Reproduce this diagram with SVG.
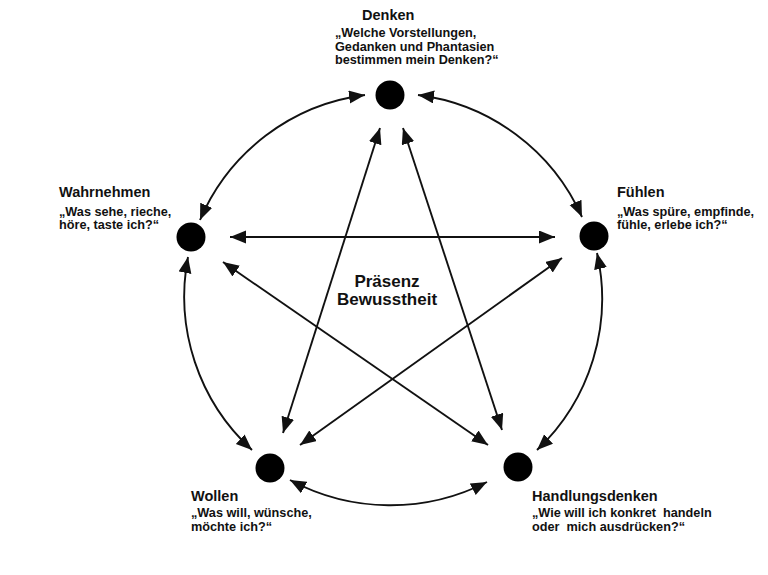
<svg xmlns="http://www.w3.org/2000/svg" width="768" height="575" viewBox="0 0 768 575">
<style>
.node circle{fill:#000}
.t{font-family:"Liberation Sans",Arial,sans-serif;font-weight:bold;font-size:14.5px;fill:#111}
.s{font-family:"Liberation Sans",Arial,sans-serif;font-weight:bold;font-size:12.7px;fill:#111;white-space:pre}
.c{font-family:"Liberation Sans",Arial,sans-serif;font-weight:bold;font-size:17px;fill:#111;text-anchor:middle}
.e{fill:none;stroke:#111;stroke-width:1.9;marker-start:url(#ah);marker-end:url(#ah)}
</style>
<defs>
<marker id="ah" markerUnits="userSpaceOnUse" markerWidth="17" markerHeight="14" refX="16" refY="6.5" orient="auto-start-reverse" viewBox="0 0 17 14">
<path d="M0,0 L16,6.5 L0,13 z" fill="#111"/>
</marker>
</defs>
<rect width="768" height="575" fill="#fff"/>
<g id="connectors">
<path class="e" d="M365,95 A208,208 0 0 0 200,220"/>
<path class="e" d="M418,95 A208,208 0 0 1 582,217"/>
<path class="e" d="M188,257 A208,208 0 0 0 252,450"/>
<path class="e" d="M597,253 A208,208 0 0 1 537,450"/>
<path class="e" d="M290,480 A212,212 0 0 0 487,482"/>
<path class="e" d="M230,237 L555,237"/>
<path class="e" d="M223,262 L488,445"/>
<path class="e" d="M562,258 L300,445"/>
<path class="e" d="M380,128 L283,433"/>
<path class="e" d="M403,128 L502,430"/>
</g>
<g id="denken" class="node">
<circle cx="390" cy="95" r="14.5"/>
<text class="t" x="362" y="20">Denken</text>
<text class="s" x="335" y="37">„Welche Vorstellungen,</text>
<text class="s" x="335" y="50.5">Gedanken und Phantasien</text>
<text class="s" x="335" y="64">bestimmen mein Denken?“</text>
</g>
<g id="wahrnehmen" class="node">
<circle cx="191" cy="237" r="14.5"/>
<text class="t" x="59" y="197">Wahrnehmen</text>
<text class="s" x="59" y="215.5">„Was sehe, rieche,</text>
<text class="s" x="59" y="229">höre, taste ich?“</text>
</g>
<g id="fuehlen" class="node">
<circle cx="594" cy="236" r="14.5"/>
<text class="t" x="617" y="197">Fühlen</text>
<text class="s" x="617" y="215.5">„Was spüre, empfinde,</text>
<text class="s" x="617" y="229">fühle, erlebe ich?“</text>
</g>
<g id="wollen" class="node">
<circle cx="270" cy="468" r="14.5"/>
<text class="t" x="191" y="501">Wollen</text>
<text class="s" x="191" y="517">„Was will, wünsche,</text>
<text class="s" x="191" y="531">möchte ich?“</text>
</g>
<g id="handlungsdenken" class="node">
<circle cx="518" cy="467" r="14.5"/>
<text class="t" x="532" y="501">Handlungsdenken</text>
<text class="s" x="532" y="517">„Wie will ich konkret  handeln</text>
<text class="s" x="532" y="531">oder  mich ausdrücken?“</text>
</g>
<g id="center">
<text class="c" x="387" y="287">Präsenz</text>
<text class="c" x="387" y="305">Bewusstheit</text>
</g>
</svg>
